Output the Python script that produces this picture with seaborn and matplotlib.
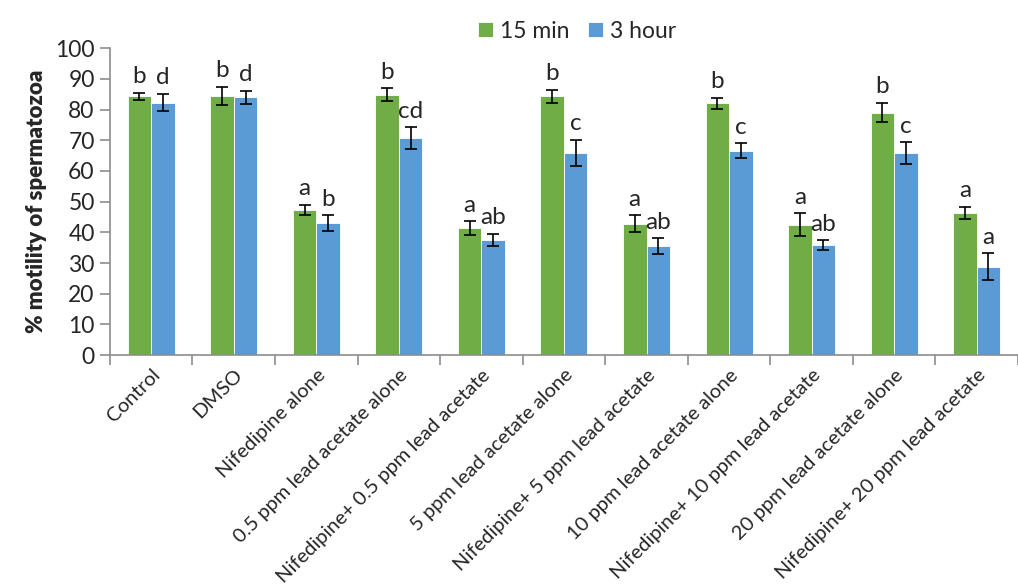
import pandas as pd
import matplotlib
matplotlib.use("Agg")
import matplotlib.pyplot as plt
import seaborn as sns

# Data
categories = [
    "Control", "DMSO", "Nifedipine alone", "0.5 ppm lead acetate alone",
    "Nifedipine+ 0.5 ppm lead acetate", "5 ppm lead acetate alone",
    "Nifedipine+ 5 ppm lead acetate", "10 ppm lead acetate alone",
    "Nifedipine+ 10 ppm lead acetate", "20 ppm lead acetate alone",
    "Nifedipine+ 20 ppm lead acetate",
]
min15_mean = [84.3, 84.5, 47.4, 84.9, 41.4, 84.3, 42.8, 82.1, 42.5, 79.0, 46.3]
min15_err = [1.2, 2.9, 1.6, 2.1, 2.2, 2.1, 2.8, 1.8, 3.7, 3.2, 2.0]
hour3_mean = [82.3, 84.0, 43.1, 70.7, 37.6, 65.8, 35.6, 66.6, 35.8, 65.8, 28.8]
hour3_err = [2.9, 2.2, 2.5, 3.6, 2.0, 4.3, 2.5, 2.5, 1.7, 3.5, 4.4]
min15_letters = ["b", "b", "a", "b", "a", "b", "a", "b", "a", "b", "a"]
hour3_letters = ["d", "d", "b", "cd", "ab", "c", "ab", "c", "ab", "c", "a"]
series = ["15 min", "3 hour"]
colors = ["#70AD47", "#5B9BD5"]

df = pd.DataFrame({
    "group": categories * 2,
    "time": [series[0]] * len(categories) + [series[1]] * len(categories),
    "motility": min15_mean + hour3_mean,
})

sns.set_theme(style="white")
plt.rcParams["font.family"] = ["Lato", "DejaVu Sans"]

fig = plt.figure(figsize=(10.18, 5.88), dpi=100)
ax = fig.add_axes([0.108, 0.396, 0.892, 0.522])

sns.barplot(data=df, x="group", y="motility", hue="time", palette=colors,
            width=0.57, errorbar=None, edgecolor="white", linewidth=0.6,
            saturation=1, ax=ax)

# Error bars and significance letters
for cont, errs, letters in zip(ax.containers, [min15_err, hour3_err],
                               [min15_letters, hour3_letters]):
    for bar, e, lab in zip(cont, errs, letters):
        xc = bar.get_x() + bar.get_width() / 2
        h = bar.get_height()
        ax.errorbar(xc, h, yerr=e, color="black", capsize=4.3,
                    elinewidth=1.2, capthick=1.2)
        ax.text(xc, h + e + 1.8, lab, ha="center", va="bottom", fontsize=17.5)

ax.set_xlim(-0.5, 10.42)
ax.set_ylim(0, 100)
ax.set_yticks(range(0, 101, 10))
ax.set_xlabel("")
ax.set_ylabel("% motility of spermatozoa", fontsize=16, fontweight="heavy",
              labelpad=6)

sns.despine(ax=ax)
for side in ["left", "bottom"]:
    ax.spines[side].set_color("#8C8C8C")
    ax.spines[side].set_linewidth(1.2)

# tick marks at category boundaries for x
ax.set_xticks([i + 0.5 for i in range(-1, 11)], minor=True)
ax.tick_params(axis="x", which="minor", bottom=True, length=7,
               color="#8C8C8C", width=1.2)
ax.tick_params(axis="x", which="major", bottom=False, labelsize=14.5, pad=2)
ax.tick_params(axis="y", left=True, length=7, color="#8C8C8C", width=1.2,
               labelsize=16.5, pad=4)
plt.setp(ax.get_xticklabels(), rotation=45, ha="right",
         rotation_mode="anchor")

ax.legend(loc="upper center", bbox_to_anchor=(0.567, 1.0), ncol=2,
          bbox_transform=fig.transFigure, frameon=False, fontsize=16.5,
          handlelength=0.65, handleheight=0.65, handletextpad=0.3,
          columnspacing=0.8, title=None)

fig.savefig("out.png", dpi=100)
